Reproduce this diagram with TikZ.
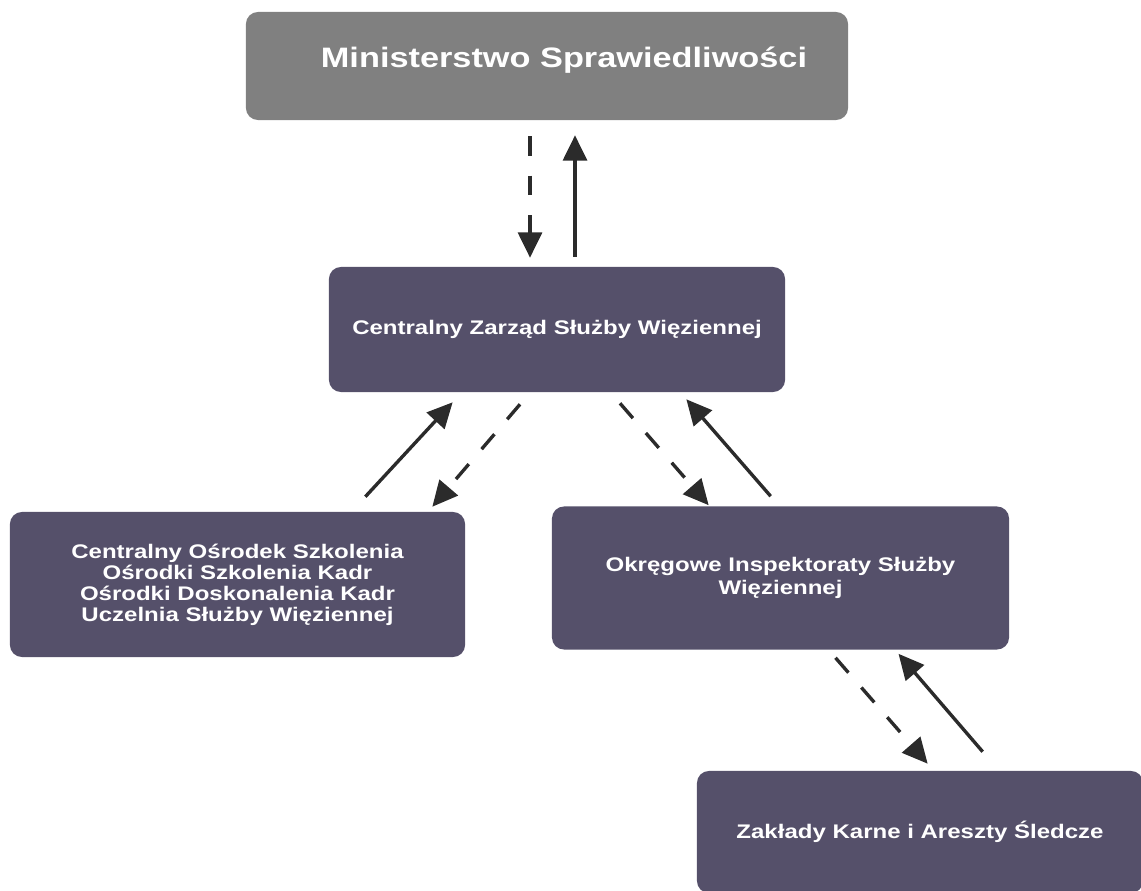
\documentclass[tikz,border=0pt]{standalone}
\usepackage{fontspec}
\newfontfamily\orgfont{Liberation Sans}[FakeStretch=1.22]
\usepackage{tikz}
\usetikzlibrary{arrows.meta,calc}
\definecolor{OrgGray}{HTML}{808080}
\definecolor{OrgPurple}{HTML}{55506A}
\definecolor{OrgArrow}{HTML}{2B2B2B}

\begin{document}
\begin{tikzpicture}[
    x=0.025cm, y=-0.025cm,
    ministry/.style={
      fill=OrgGray,
      minimum width=15.05cm,
      minimum height=2.7cm,
      rounded corners=0.3cm,
      text=white,
      text height=12pt,
      text depth=10pt,
      font=\orgfont\bfseries\fontsize{20pt}{24pt}\selectfont
    },
    unit/.style={
      fill=OrgPurple,
      minimum width=11.4cm,
      rounded corners=0.3cm,
      text=white,
      align=center,
      font=\orgfont\bfseries\fontsize{14pt}{15pt}\selectfont
    },
    order/.style={
      line width=2.4pt,
      color=OrgArrow,
      dash pattern=on 14pt off 14pt,
      -{Triangle[length=18pt,width=17pt]}
    },
    report/.style={
      line width=2.4pt,
      color=OrgArrow,
      -{Triangle[length=18pt,width=17pt]}
    }
  ]
  \useasboundingbox (0,0) rectangle (1141,891);

  % Ministry
  \node[ministry] (ms) at (547,66) {\hspace*{0.85cm}Ministerstwo Sprawiedliwości};

  % Central board
  \node[unit,minimum height=3.125cm] (cz) at (557,329.5) {Centralny Zarząd Służby Więziennej};

  % Training units
  \node[unit,minimum width=11.375cm,minimum height=3.625cm] (cos) at (237.5,584.5)
    {Centralny Ośrodek Szkolenia\\Ośrodki Szkolenia Kadr\\Ośrodki Doskonalenia Kadr\\Uczelnia Służby Więziennej};

  % Regional inspectorates
  \node[unit,minimum width=11.425cm,minimum height=3.575cm,
        font=\orgfont\bfseries\fontsize{14pt}{16.5pt}\selectfont] (oisw) at (780.5,578)
    {Okręgowe Inspektoraty Służby\\Więziennej};

  % Prisons
  \node[unit,minimum width=11.15cm,minimum height=3.05cm] (zk) at (920,832)
    {Zakłady Karne i Areszty Śledcze};

  % Links
  \draw[order]  ($(ms.south)+(-17,16)$) -- ($(cz.north)+(-27,-9)$);
  \draw[report] ($(cz.north)+(18,-10)$) -- ($(ms.south)+(28,15)$);
  \draw[report] ($(cos.north east)+(-100,-15)$) -- ($(cz.south west)+(124,10)$);
  \draw[order]  ($(cz.south)+(-37,12)$) -- ($(cos.north east)+(-33,-5)$);
  \draw[order]  ($(cz.south)+(63,11)$) -- ($(oisw.north west)+(157,-1)$);
  \draw[report] ($(oisw.north west)+(219,-10)$) -- ($(cz.south east)+(-99,7)$);
  \draw[order]  ($(oisw.south)+(55,8)$) -- ($(zk.north west)+(231,-7)$);
  \draw[report] ($(zk.north west)+(286,-19)$) -- ($(oisw.south)+(118,4)$);

\end{tikzpicture}
\end{document}
